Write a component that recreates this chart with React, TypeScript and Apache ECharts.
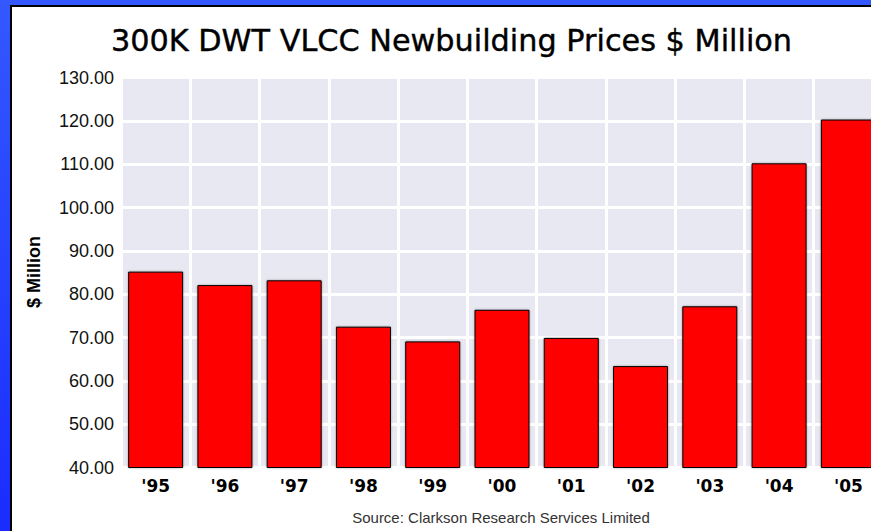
import React, { useEffect, useRef } from "react";
import * as echarts from "echarts";

const years = ["'95", "'96", "'97", "'98", "'99", "'00", "'01", "'02", "'03", "'04", "'05"];
const prices = [85.2, 82.1, 83.2, 72.5, 69.1, 76.4, 69.9, 63.4, 77.2, 110.2, 120.3];
const titleText = "300K DWT VLCC Newbuilding Prices $ Million";
const axisTitle = "$ Million";
const sourceText = "Source: Clarkson Research Services Limited";

export default function App() {
  const ref = useRef<HTMLDivElement>(null);

  useEffect(() => {
    document.body.style.margin = "0";
    const chart = echarts.init(ref.current!, null, { renderer: "svg" });
    chart.setOption({
      animation: false,
      backgroundColor: "transparent",
      grid: {
        left: 121,
        top: 77.5,
        width: 762,
        height: 390,
        show: true,
        backgroundColor: "#e8e8f2",
        borderWidth: 0,
        containLabel: false,
      },
      xAxis: {
        type: "category",
        data: years,
        boundaryGap: true,
        axisLine: { show: false },
        axisTick: { show: false },
        splitLine: { show: true, lineStyle: { color: "#ffffff", width: 3 } },
        axisLabel: {
          margin: 10,
          color: "#000",
          fontFamily: "DejaVu Sans",
          fontWeight: "bold",
          fontSize: 17,
          interval: 0,
        },
      },
      yAxis: {
        type: "value",
        min: 40,
        max: 130,
        interval: 10,
        axisLine: { show: false },
        axisTick: { show: false },
        splitLine: { show: true, lineStyle: { color: "#ffffff", width: 3 } },
        axisLabel: {
          margin: 7,
          color: "#111",
          fontFamily: "Liberation Sans, Arial",
          fontSize: 18,
          formatter: (v: number) => v.toFixed(2),
        },
      },
      series: [
        {
          type: "bar",
          data: prices,
          barWidth: 55,
          itemStyle: {
            color: "#ff0000",
            borderColor: "#000",
            borderWidth: 1,
            shadowColor: "rgba(0,0,0,0.35)",
            shadowBlur: 2,
          },
        },
      ],
      graphic: [
        {
          type: "text",
          x: 451.5,
          y: 40,
          z: 100,
          style: {
            text: titleText,
            fontFamily: "DejaVu Sans",
            fontSize: 30.3,
            fontWeight: "normal",
            fill: "#000",
            stroke: "#000",
            lineWidth: 0.4,
            textAlign: "center",
            textVerticalAlign: "middle",
          },
        },
        {
          type: "text",
          x: 34,
          y: 272,
          rotation: Math.PI / 2,
          z: 100,
          style: {
            text: axisTitle,
            fontFamily: "Liberation Sans, Arial",
            fontSize: 18,
            fontWeight: "bold",
            fill: "#000",
            textAlign: "center",
            textVerticalAlign: "middle",
          },
        },
        {
          type: "text",
          x: 501,
          y: 517,
          z: 100,
          style: {
            text: sourceText,
            fontFamily: "Liberation Sans, Arial",
            fontSize: 15,
            fill: "#333",
            textAlign: "center",
            textVerticalAlign: "middle",
          },
        },
      ],
    });
    return () => chart.dispose();
  }, []);

  return (
    <div
      style={{
        position: "absolute",
        left: 0,
        top: 0,
        width: 871,
        height: 531,
        overflow: "hidden",
        background: "linear-gradient(to bottom, #3358ff, #1a2cff)",
      }}
    >
      <div
        style={{
          position: "absolute",
          left: 10,
          top: 5,
          right: 0,
          bottom: 0,
          background: "#ffffff",
          borderLeft: "2px solid #000",
          borderTop: "2px solid #000",
          boxSizing: "border-box",
        }}
      />
      <div ref={ref} style={{ position: "absolute", left: 0, top: 0, width: 920, height: 531 }} />
    </div>
  );
}
